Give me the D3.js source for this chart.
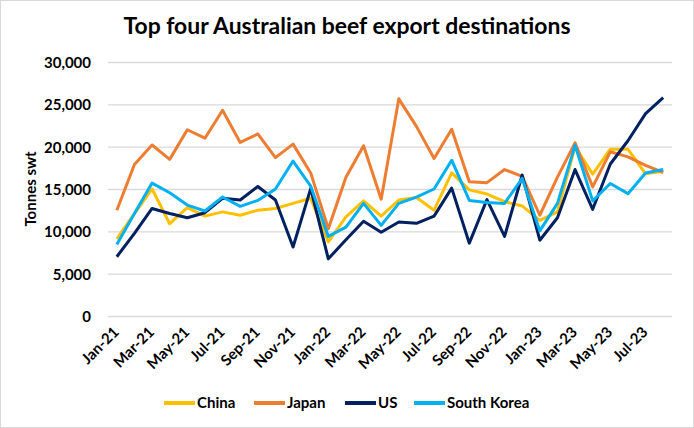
<!DOCTYPE html>
<html>
<head>
<meta charset="utf-8">
<script src="https://cdn.jsdelivr.net/npm/d3@7"></script>
<style>
  body { margin: 0; background: #fff; }
  text { font-family: Lato, "Open Sans", sans-serif; font-weight: bold; fill: #000; }
</style>
</head>
<body>
<div id="chart"></div>
<script>
// ===== data (tonnes swt)
var months = ["Jan-21","Feb-21","Mar-21","Apr-21","May-21","Jun-21","Jul-21","Aug-21","Sep-21","Oct-21","Nov-21","Dec-21",
              "Jan-22","Feb-22","Mar-22","Apr-22","May-22","Jun-22","Jul-22","Aug-22","Sep-22","Oct-22","Nov-22","Dec-22",
              "Jan-23","Feb-23","Mar-23","Apr-23","May-23","Jun-23","Jul-23","Aug-23"];
var china = [9100, 12100, 15000, 10900, 12800, 11800, 12300, 11900, 12500, 12700, 13300, 13900,
             8750, 11700, 13600, 11800, 13700, 14000, 12500, 16900, 14900, 14400, 13500, 13000,
             11300, 12300, 20000, 16750, 19700, 19700, 16800, 17100];
var japan = [12500, 17900, 20200, 18500, 22000, 21000, 24300, 20500, 21500, 18700, 20300, 16900,
             10300, 16400, 20100, 13800, 25650, 22400, 18600, 22050, 15850, 15750, 17300, 16500,
             11900, 16400, 20450, 15250, 19400, 18800, 17800, 16950];
var us = [7000, 9750, 12700, 12100, 11600, 12200, 13900, 13700, 15300, 13700, 8150, 15050,
          6750, 9000, 11200, 9900, 11100, 10950, 11800, 15100, 8600, 13750, 9400, 16650,
          8950, 11600, 17300, 12600, 17950, 20700, 23900, 25800];
var southKorea = [8450, 12100, 15700, 14550, 13100, 12400, 14050, 12950, 13650, 15000, 18300, 15350,
                  9400, 10500, 13300, 10700, 13300, 14050, 15000, 18400, 13650, 13400, 13300, 16250,
                  10050, 13300, 20150, 13600, 15650, 14450, 16900, 17300];
var seriesNames = ["China", "Japan", "US", "South Korea"];
var yTicks = [0, 5000, 10000, 15000, 20000, 25000, 30000];

var colors = ["#FFC000", "#ED7D31", "#002060", "#00B0F0"];
var seriesValues = [china, japan, us, southKorea];

// ===== sizes
var svgWidth = 694, svgHeight = 428;
var plot = { left: 108, right: 672, top: 62, bottom: 316 };

var svg = d3.select("#chart").append("svg")
    .attr("width", svgWidth)
    .attr("height", svgHeight);

// border
svg.append("rect")
    .attr("x", 0.5).attr("y", 0.5)
    .attr("width", svgWidth - 1).attr("height", svgHeight - 1)
    .attr("fill", "#fff").attr("stroke", "#d9d9d9");

// ===== scales
var x = d3.scaleBand().domain(months).range([plot.left, plot.right]);
var y = d3.scaleLinear().domain([0, 30000]).range([plot.bottom, plot.top]);

// title, kept to the width of the original
var title = svg.append("text")
    .attr("x", svgWidth / 2).attr("y", 34)
    .attr("text-anchor", "middle")
    .style("font-size", "23px")
    .text("Top four Australian beef export destinations");
var tw = title.node().getComputedTextLength();
if (tw > 447) title.attr("textLength", 447).attr("lengthAdjust", "spacingAndGlyphs");

// ===== gridlines + y axis
var yAxis = svg.append("g")
    .attr("transform", `translate(${plot.left}, 0)`)
    .call(d3.axisLeft(y).tickValues(yTicks).tickSize(-(plot.right - plot.left)).tickFormat(d3.format(",")));
yAxis.select(".domain").remove();
yAxis.selectAll(".tick line").attr("stroke", "#d9d9d9").attr("stroke-width", 1.3);
yAxis.selectAll(".tick text")
    .attr("x", -17)
    .attr("dy", "0.36em")
    .style("font-size", "15px")
    .style("font-family", "Lato, sans-serif");

svg.append("text")
    .attr("transform", "translate(36, 189) rotate(-90)")
    .attr("text-anchor", "middle")
    .style("font-size", "15px")
    .text("Tonnes swt");

// ===== x labels every second month
svg.append("g").selectAll("text")
    .data(months.filter((m, i) => i % 2 === 0))
    .enter().append("text")
    .attr("transform", d => `translate(${x(d) + x.bandwidth() / 2 + 3}, 333) rotate(-45)`)
    .attr("text-anchor", "end")
    .style("font-size", "15px")
    .text(d => d);

// ===== lines
var line = d3.line()
    .x((d, i) => x(months[i]) + x.bandwidth() / 2)
    .y(d => y(d));

svg.append("g").selectAll("path")
    .data(seriesValues)
    .enter().append("path")
    .attr("d", line)
    .attr("fill", "none")
    .attr("stroke", (d, i) => colors[i])
    .attr("stroke-width", 3)
    .attr("stroke-linejoin", "round");

// ===== legend
var legendX = [164, 254, 345, 414];
var legend = svg.append("g").selectAll("g")
    .data(seriesNames)
    .enter().append("g")
    .attr("transform", (d, i) => `translate(${legendX[i]}, 403)`);
legend.append("line")
    .attr("x1", 0).attr("x2", 31)
    .attr("stroke", (d, i) => colors[i])
    .attr("stroke-width", 4);
legend.append("text")
    .attr("x", 33).attr("dy", "0.36em")
    .style("font-size", "15px")
    .text(d => d);
</script>
</body>
</html>
